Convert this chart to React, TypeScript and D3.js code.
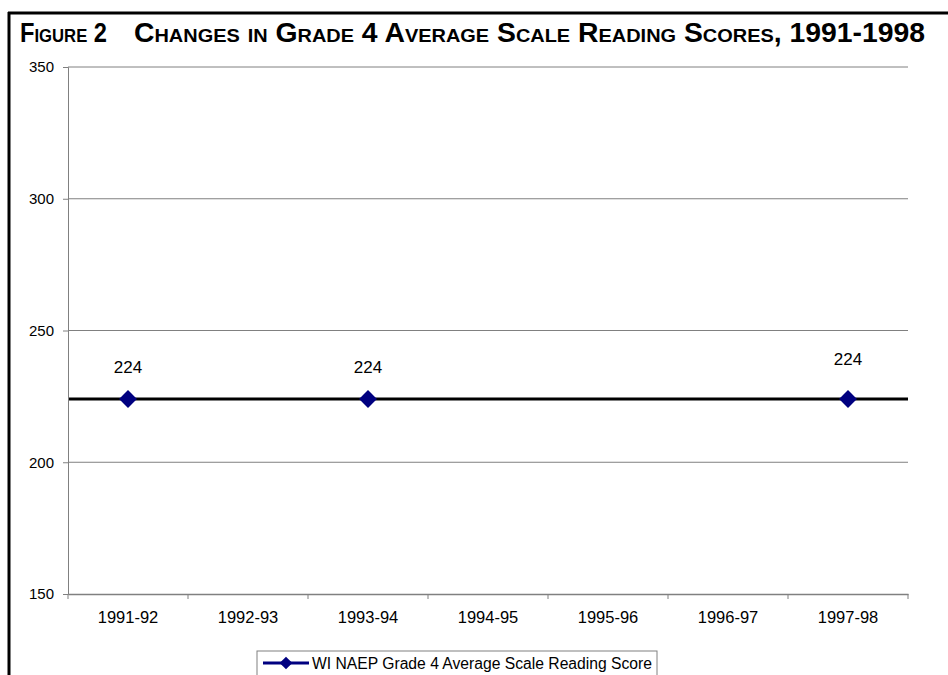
import React, { useEffect, useRef } from "react"
import * as d3 from "d3"

const years = ["1991-92", "1992-93", "1993-94", "1994-95", "1995-96", "1996-97", "1997-98"]
const scoreYears = ["1991-92", "1993-94", "1997-98"]
const scores = [224, 224, 224]
const yTicks = [150, 200, 250, 300, 350]
const seriesName = "WI NAEP Grade 4 Average Scale Reading Score"
const figureLabel = "Figure 2"
const title = "Changes in Grade 4 Average Scale Reading Scores, 1991-1998"

const W = 948
const H = 675
const font = "Arial, 'Liberation Sans', sans-serif"

export default function App() {
    const ref = useRef<SVGSVGElement>(null)

    useEffect(() => {
        const svg = d3.select(ref.current)
        svg.selectAll("*").remove()

        const left = 68, right = 908, top = 67, bottom = 594

        const x = d3.scaleBand().domain(years).range([left, right])
        const y = d3.scaleLinear().domain([150, 350]).range([bottom, top])

        // frame
        svg.append("line").attr("x1", 8).attr("x2", W).attr("y1", 13).attr("y2", 13)
            .attr("stroke", "#000").attr("stroke-width", 3)
        svg.append("line").attr("x1", 9).attr("x2", 9).attr("y1", 12).attr("y2", H)
            .attr("stroke", "#000").attr("stroke-width", 3)

        // title
        const t = svg.append("text").attr("y", 42).attr("font-family", font)
            .attr("font-weight", "bold").attr("font-size", 27)
            .style("font-variant", "small-caps").attr("fill", "#000")
        t.append("tspan").attr("x", 20).attr("textLength", 87)
            .attr("lengthAdjust", "spacingAndGlyphs").text(figureLabel)
        t.append("tspan").attr("x", 134).attr("textLength", 791)
            .attr("lengthAdjust", "spacingAndGlyphs").text(title)

        // grid
        svg.append("g").selectAll("line").data(yTicks.filter(d => d > 150)).enter()
            .append("line")
            .attr("x1", left).attr("x2", right)
            .attr("y1", d => y(d)).attr("y2", d => y(d))
            .attr("stroke", "#808080").attr("stroke-width", 1)

        // y axis
        const yAxis = svg.append("g").attr("transform", `translate(${left},0)`)
            .call(d3.axisLeft(y).tickValues(yTicks).tickSize(5).tickPadding(9))
        yAxis.select(".domain").attr("stroke", "#808080")
        yAxis.selectAll(".tick line").attr("stroke", "#808080")
        yAxis.selectAll("text").attr("font-family", font).attr("font-size", 15).attr("fill", "#000")

        // x axis
        const xAxis = svg.append("g").attr("transform", `translate(0,${bottom})`)
            .call(d3.axisBottom(x).tickSize(0).tickPadding(17))
        xAxis.select(".domain").attr("stroke", "#808080").attr("stroke-width", 1.5)
        xAxis.selectAll("text").attr("font-family", font).attr("font-size", 16.5).attr("fill", "#000")
        svg.append("g").selectAll("line").data(years.concat(["end"])).enter()
            .append("line")
            .attr("x1", (d, i) => left + i * x.bandwidth())
            .attr("x2", (d, i) => left + i * x.bandwidth())
            .attr("y1", bottom).attr("y2", bottom + 5)
            .attr("stroke", "#808080")

        // reference line at score level
        svg.append("line")
            .attr("x1", left + 1).attr("x2", right)
            .attr("y1", y(scores[0])).attr("y2", y(scores[0]))
            .attr("stroke", "#000").attr("stroke-width", 3)

        const cx = (d: string) => (x(d) as number) + x.bandwidth() / 2
        const diamond = d3.symbol().type(d3.symbolSquare).size(160)

        svg.append("g").selectAll("path").data(scores).enter()
            .append("path")
            .attr("d", diamond)
            .attr("transform", (d, i) => `translate(${cx(scoreYears[i])},${y(d)}) rotate(45)`)
            .attr("fill", "#000080")

        svg.append("g").selectAll("text").data(scores).enter()
            .append("text")
            .attr("x", (d, i) => cx(scoreYears[i]))
            .attr("y", (d, i) => y(d) - (i === 2 ? 34 : 26))
            .attr("text-anchor", "middle")
            .attr("font-family", font).attr("font-size", 17)
            .text(d => d)

        // legend
        const lg = svg.append("g").attr("transform", "translate(257,651)")
        lg.append("rect").attr("width", 400).attr("height", 30)
            .attr("fill", "#fff").attr("stroke", "#808080")
        lg.append("line").attr("x1", 6).attr("x2", 52).attr("y1", 12).attr("y2", 12)
            .attr("stroke", "#000080").attr("stroke-width", 3)
        lg.append("path").attr("d", d3.symbol().type(d3.symbolSquare).size(80))
            .attr("transform", "translate(29,12) rotate(45)").attr("fill", "#000080")
        lg.append("text").attr("x", 55).attr("y", 18)
            .attr("font-family", font).attr("font-size", 16)
            .attr("textLength", 340).attr("lengthAdjust", "spacingAndGlyphs")
            .text(seriesName)
    }, [])

    return (
        <svg ref={ref} width={W} height={H}
            style={{ position: "absolute", left: 0, top: 0, background: "#fff" }} />
    )
}
